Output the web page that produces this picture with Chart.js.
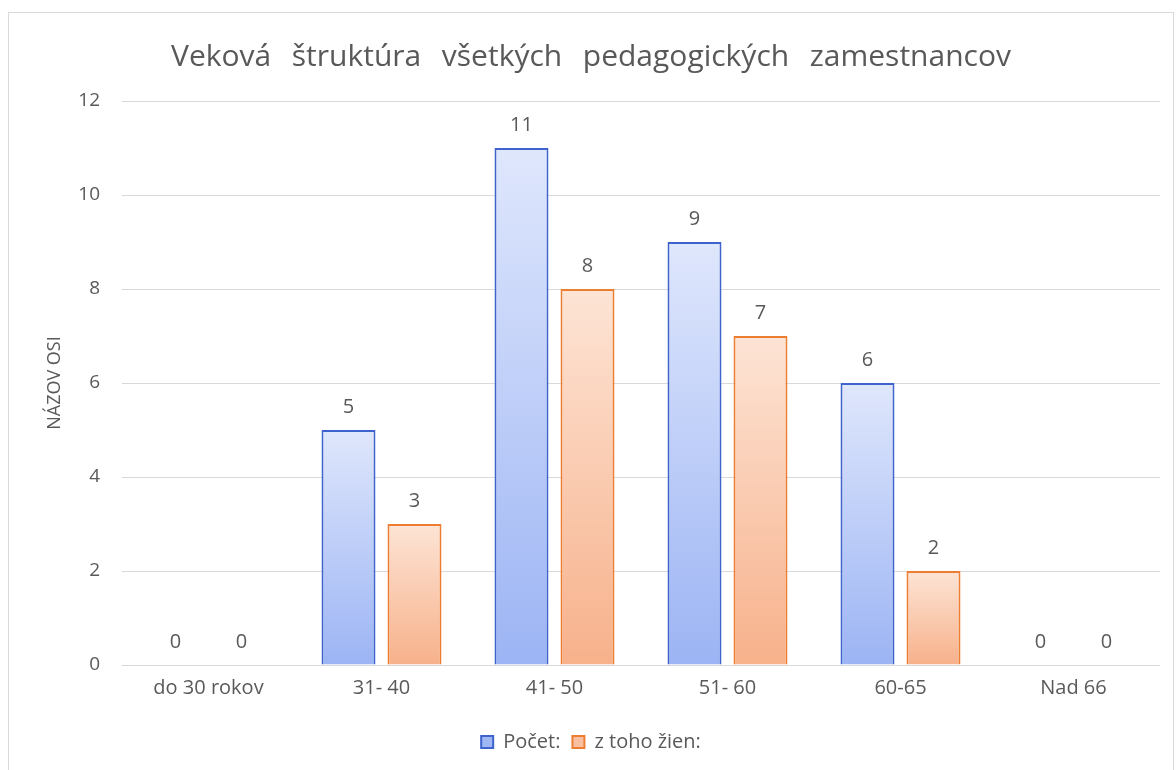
<!DOCTYPE html>
<html>
<head>
<meta charset="utf-8">
<script src="https://cdn.jsdelivr.net/npm/chart.js@4.4.0/dist/chart.umd.min.js"></script>
<style>
  html, body { margin: 0; padding: 0; background: #fff; }
  #wrap { position: relative; width: 1176px; height: 770px; }
  #frame { position: absolute; left: 8px; top: 12px; width: 1166px; height: 770px; border: 1px solid #d9d9d9; box-sizing: border-box; }
  canvas { position: absolute; left: 0; top: 0; }
</style>
</head>
<body>
<div id="wrap">
  <div id="frame"></div>
  <canvas id="graf" width="1176" height="770"></canvas>
</div>
<script>
// kategórie a hodnoty
var vekoveSkupiny = ['do 30 rokov', '31- 40', '41- 50', '51- 60', '60-65', 'Nad 66'];
var pocet = [0, 5, 11, 9, 6, 0];
var zTohoZien = [0, 3, 8, 7, 2, 0];
var osY = [0, 2, 4, 6, 8, 10, 12];

var sivaText = '#595959';
var pismo = '"Open Sans", "Noto Sans", sans-serif';
var medzera = '  \u2006';

// gradient pre každý stĺpec zvlášť (svetlý hore, tmavší dole)
function gradient(horna, dolna) {
    return function(context) {
        var chart = context.chart;
        var area = chart.chartArea;
        if (!area || context.type !== 'data') return dolna;
        var y = chart.scales.y;
        var top = y.getPixelForValue(context.raw);
        var base = y.getPixelForValue(0);
        if (base - top < 1) top = base - 1;
        var g = chart.ctx.createLinearGradient(0, top, 0, base);
        g.addColorStop(0, horna);
        g.addColorStop(1, dolna);
        return g;
    };
}

// popisky hodnôt nad stĺpcami
var popisky = {
    id: 'popisky',
    afterDatasetsDraw: function(chart) {
        var ctx = chart.ctx;
        ctx.save();
        ctx.font = '20px ' + pismo;
        ctx.fillStyle = sivaText;
        ctx.textAlign = 'center';
        ctx.textBaseline = 'middle';
        chart.data.datasets.forEach(function(ds, i) {
            chart.getDatasetMeta(i).data.forEach(function(bar, j) {
                ctx.fillText(ds.data[j], bar.x, bar.y - 23);
            });
        });
        ctx.restore();
    }
};

var ctxGraf = document.getElementById('graf').getContext('2d');
new Chart(ctxGraf, {
    type: 'bar',
    data: {
        labels: vekoveSkupiny,
        datasets: [
            {
                label: 'Počet:',
                data: pocet,
                backgroundColor: gradient('#dfe7fc', '#9cb4f4'),
                borderColor: '#3f63cc',
                borderWidth: 2,
                borderSkipped: 'bottom',
                categoryPercentage: 0.763,
                barPercentage: 0.818
            },
            {
                label: 'z toho žien:',
                data: zTohoZien,
                backgroundColor: gradient('#fde4d5', '#f7b18b'),
                borderColor: '#ed7d31',
                borderWidth: 2,
                borderSkipped: 'bottom',
                categoryPercentage: 0.763,
                barPercentage: 0.818
            }
        ]
    },
    options: {
        responsive: false,
        animation: false,
        layout: { padding: { left: 22, right: 16, top: 14, bottom: 8 } },
        plugins: {
            title: {
                display: true,
                text: ['Veková', 'štruktúra', 'všetkých', 'pedagogických', 'zamestnancov'].join(medzera),
                color: sivaText,
                font: { family: pismo, size: 30, weight: 'normal' },
                padding: { top: 25, bottom: 26 }
            },
            legend: {
                position: 'bottom',
                labels: {
                    color: sivaText,
                    font: { family: pismo, size: 20 },
                    boxWidth: 12,
                    boxHeight: 12,
                    padding: 12,
                    generateLabels: function(chart) {
                        return [
                            { text: 'Počet:', fillStyle: '#9fb7f2', strokeStyle: '#3f63cc', lineWidth: 2, datasetIndex: 0, fontColor: sivaText },
                            { text: 'z toho žien:', fillStyle: '#f8c0a0', strokeStyle: '#ed7d31', lineWidth: 2, datasetIndex: 1, fontColor: sivaText }
                        ];
                    }
                }
            },
            tooltip: { enabled: false }
        },
        scales: {
            x: {
                grid: { display: false },
                border: { display: false },
                afterFit: function(axis) { axis.height = axis.height + 17; },
                ticks: { color: sivaText, font: { family: pismo, size: 20 }, padding: 3 }
            },
            y: {
                min: 0,
                max: 12,
                afterBuildTicks: function(axis) {
                    axis.ticks = osY.map(function(v) { return { value: v }; });
                },
                afterFit: function(axis) { axis.width = 100; },
                grid: { color: '#d9d9d9', lineWidth: 1, drawTicks: false },
                border: { display: false },
                ticks: { color: sivaText, font: { family: pismo, size: 19 }, padding: 22 },
                title: {
                    display: true,
                    text: 'NÁZOV OSI',
                    color: sivaText,
                    font: { family: pismo, size: 18 },
                    padding: { top: 22, bottom: 0 }
                }
            }
        }
    },
    plugins: [popisky]
});
</script>
</body>
</html>
